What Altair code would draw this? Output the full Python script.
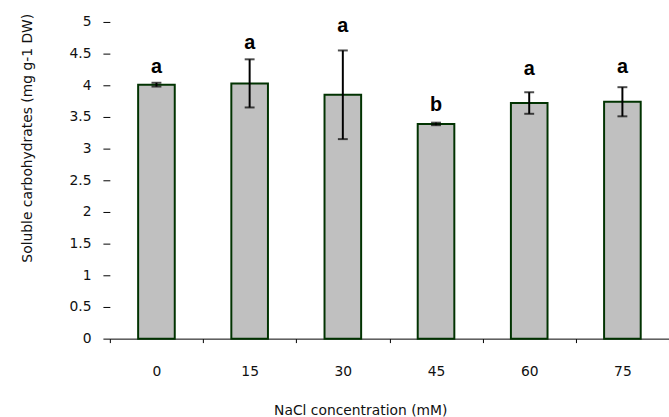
import altair as alt
import pandas as pd

categories = ["0", "15", "30", "45", "60", "75"]
means = [4.01, 4.03, 3.85, 3.39, 3.72, 3.74]
errors = [0.03, 0.38, 0.70, 0.02, 0.17, 0.23]
letters = ["a", "a", "a", "b", "a", "a"]
letter_y = [4.20, 4.58, 4.84, 3.59, 4.17, 4.19]
y_ticks = [0, 0.5, 1, 1.5, 2, 2.5, 3, 3.5, 4, 4.5, 5]

df = pd.DataFrame({
    "conc": categories,
    "mean": means,
    "lo": [m - e for m, e in zip(means, errors)],
    "hi": [m + e for m, e in zip(means, errors)],
    "letter": letters,
    "ly": letter_y,
})

FONT = "DejaVu Sans"

x_axis = alt.Axis(
    title="NaCl concentration (mM)",
    labelAngle=0,
    tickBand="extent",
    tickSize=4,
    labelPadding=22,
    titleX=253,
    titleY=73,
    titleBaseline="middle",
)
x_scale = alt.Scale(paddingInner=0, paddingOuter=0)

y_axis = alt.Axis(
    title="Soluble carbohydrates (mg g-1 DW)",
    values=y_ticks,
    format="~g",
    labelOverlap=False,
    domain=False,
    grid=False,
    tickSize=7,
    labelPadding=12,
    titleX=-83,
    titleY=117,
    titleBaseline="middle",
)
y_scale = alt.Scale(domain=[0, 5], nice=False)


def X():
    return alt.X("conc:N", sort=categories, scale=x_scale, axis=x_axis)


def Y(field):
    return alt.Y(field, scale=y_scale, axis=y_axis)


bars = alt.Chart(df).mark_bar(
    size=37, color="#c0c0c0", stroke="#013301", strokeWidth=2
).encode(x=X(), y=Y("mean:Q"))

rules = alt.Chart(df).mark_rule(color="black", strokeWidth=2).encode(
    x=X(), y=Y("lo:Q"), y2="hi:Q"
)

caps_hi = alt.Chart(df).mark_tick(color="black", size=10, thickness=2).encode(
    x=X(), y=Y("hi:Q")
)
caps_lo = alt.Chart(df).mark_tick(color="black", size=10, thickness=2).encode(
    x=X(), y=Y("lo:Q")
)

texts = alt.Chart(df).mark_text(
    font="Liberation Sans", fontSize=20, fontWeight="bold",
    baseline="alphabetic", align="center", color="black"
).encode(x=X(), y=Y("ly:Q"), text="letter:N")

chart = alt.layer(bars, rules, caps_hi, caps_lo, texts).properties(
    width=565,
    height=320,
    autosize=alt.AutoSizeParams(type="none"),
    padding={"left": 111, "top": 20, "right": 0, "bottom": 77},
).configure_view(
    stroke=None
).configure_axis(
    labelFont=FONT,
    titleFont=FONT,
    labelFontSize=14,
    titleFontSize=14,
    titleFontWeight="normal",
    labelColor="#111111",
    titleColor="#111111",
    domainColor="black",
    tickColor="black",
    grid=False,
)

chart.save("out.html", embed_options={"renderer": "svg", "actions": False})
